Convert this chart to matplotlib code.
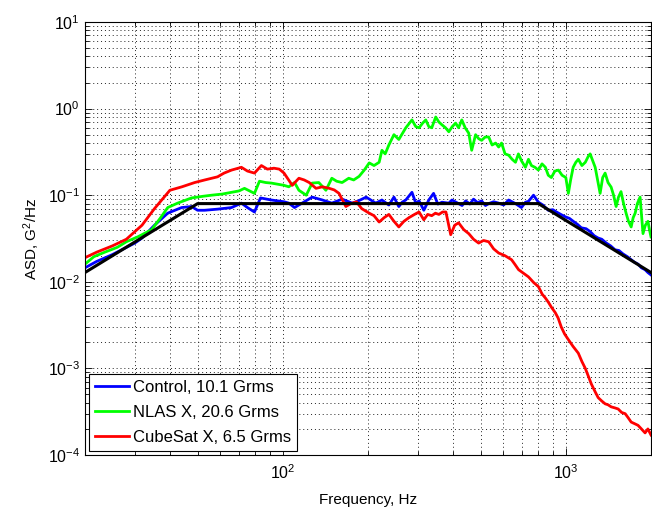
import matplotlib
matplotlib.use("Agg")
import matplotlib.pyplot as plt
from matplotlib.ticker import LogLocator, NullFormatter

plt.rcParams['font.family'] = ['Liberation Sans', 'DejaVu Sans']
plt.rcParams['mathtext.default'] = 'regular'

# ---- data ----
spec_f = [20, 50, 800, 2000]
spec_v = [0.0128, 0.08, 0.08, 0.0128]

control_f = [20, 22, 24.9, 27, 30.0, 31.8, 35.2, 39.2, 43.9, 47.6, 50.0, 52.9, 58.8, 65.9, 71.4, 75.0,
             79.4, 83.4, 91.1, 101, 105, 110, 117, 127, 138, 149, 162, 176, 185, 197, 213, 224,
             237, 247, 257, 264, 272, 286, 295, 303, 315, 328, 341, 353, 365, 386, 396, 418, 430,
             443, 458, 472, 488, 504, 520, 534, 556, 579, 603, 628, 664, 697, 720, 738, 769, 800,
             830, 867, 900, 927, 960, 1000, 1030, 1062, 1100, 1135, 1180, 1219, 1260, 1301, 1340,
             1390, 1440, 1493, 1540, 1592, 1650, 1702, 1750, 1800, 1850, 1906, 1950, 2000]
control_v = [0.0145, 0.0172, 0.0205, 0.0235, 0.028, 0.032, 0.045, 0.062, 0.072, 0.074, 0.067, 0.067,
             0.069, 0.072, 0.081, 0.072, 0.064, 0.093, 0.088, 0.084, 0.081, 0.072, 0.081, 0.095,
             0.088, 0.081, 0.09, 0.081, 0.086, 0.095, 0.081, 0.088, 0.077, 0.095, 0.074, 0.083,
             0.088, 0.108, 0.081, 0.086, 0.067, 0.088, 0.105, 0.079, 0.083, 0.081, 0.088, 0.08,
             0.076, 0.086, 0.079, 0.09, 0.082, 0.086, 0.076, 0.08, 0.084, 0.081, 0.077, 0.088, 0.08,
             0.072, 0.083, 0.085, 0.1, 0.083, 0.077, 0.067, 0.068, 0.064, 0.06, 0.056, 0.054, 0.05,
             0.046, 0.042, 0.041, 0.038, 0.034, 0.032, 0.031, 0.028, 0.026, 0.0234, 0.023, 0.021,
             0.0195, 0.018, 0.0168, 0.016, 0.0145, 0.0138, 0.0128, 0.012]

nlas_f = [20, 21.5, 23.5, 26, 28, 30.7, 34.4, 37, 39.2, 42.5, 47.6, 52, 56.0, 61, 65.9, 70, 73.2,
          79.4, 82.7, 87, 91.1, 96, 101, 105, 110, 114, 121, 127, 134, 142, 149, 155, 162, 171,
          178, 186, 194, 202, 210, 219, 224, 230, 237, 247, 257, 265, 272, 286, 295, 303, 312,
          320, 328, 336, 347, 356, 365, 376, 386, 397, 408, 418, 429, 441, 454, 465, 480, 492,
          504, 519, 534, 549, 565, 579, 593, 610, 628, 646, 664, 680, 697, 720, 738, 756, 778,
          800, 824, 847, 867, 889, 915, 942, 970, 1000, 1021, 1040, 1062, 1085, 1107, 1140, 1172,
          1200, 1219, 1245, 1270, 1295, 1322, 1350, 1377, 1410, 1446, 1475, 1506, 1535, 1567,
          1600, 1633, 1665, 1702, 1730, 1758, 1790, 1830, 1850, 1874, 1910, 1951, 1975, 2000]
nlas_v = [0.016, 0.0195, 0.022, 0.025, 0.029, 0.033, 0.04, 0.055, 0.072, 0.081, 0.093, 0.097, 0.1,
          0.103, 0.108, 0.112, 0.12, 0.105, 0.145, 0.14, 0.138, 0.134, 0.13, 0.125, 0.14, 0.114,
          0.1, 0.138, 0.14, 0.114, 0.157, 0.145, 0.14, 0.157, 0.15, 0.165, 0.195, 0.236, 0.22,
          0.24, 0.33, 0.3, 0.38, 0.5, 0.44, 0.52, 0.6, 0.74, 0.62, 0.6, 0.68, 0.74, 0.62, 0.6,
          0.8, 0.7, 0.65, 0.6, 0.54, 0.62, 0.68, 0.6, 0.74, 0.6, 0.52, 0.33, 0.5, 0.45, 0.43,
          0.47, 0.47, 0.38, 0.4, 0.36, 0.4, 0.3, 0.29, 0.26, 0.24, 0.3, 0.25, 0.21, 0.26, 0.22,
          0.21, 0.195, 0.23, 0.21, 0.17, 0.16, 0.19, 0.195, 0.17, 0.16, 0.105, 0.15, 0.21,
          0.24, 0.26, 0.22, 0.24, 0.28, 0.3, 0.25, 0.21, 0.15, 0.105, 0.16, 0.18, 0.14, 0.124,
          0.1, 0.074, 0.095, 0.11, 0.08, 0.062, 0.05, 0.043, 0.055, 0.062, 0.08, 0.095, 0.06,
          0.036, 0.045, 0.05, 0.04, 0.033]

cube_f = [20, 22, 25, 28, 31.8, 35.2, 39.9, 44, 48.8, 53, 58.8, 62, 65.9, 71.4, 75, 79.4, 84.0,
          88.2, 93, 97.2, 101, 108, 114, 119, 124, 131, 138, 146, 152, 158, 167, 174, 182, 190,
          202, 210, 219, 228, 237, 247, 257, 268, 279, 292, 303, 315, 325, 336, 346, 356, 367,
          377, 392, 405, 418, 436, 454, 472, 492, 512, 534, 556, 579, 610, 643, 660, 681, 710,
          738, 770, 800, 825, 847, 868, 889, 918, 940, 964, 990, 1021, 1060, 1107, 1140, 1172,
          1200, 1231, 1265, 1301, 1340, 1377, 1410, 1446, 1490, 1531, 1575, 1621, 1660, 1702,
          1750, 1800, 1850, 1906, 1950, 2000]
cube_v = [0.019, 0.022, 0.026, 0.031, 0.045, 0.07, 0.114, 0.125, 0.14, 0.15, 0.163, 0.18, 0.195,
          0.21, 0.19, 0.18, 0.22, 0.2, 0.205, 0.2, 0.18, 0.13, 0.157, 0.15, 0.14, 0.12, 0.125,
          0.12, 0.115, 0.105, 0.074, 0.08, 0.084, 0.07, 0.062, 0.058, 0.049, 0.055, 0.06, 0.05,
          0.043, 0.05, 0.055, 0.06, 0.064, 0.052, 0.06, 0.058, 0.062, 0.06, 0.064, 0.064, 0.035,
          0.045, 0.048, 0.04, 0.036, 0.031, 0.028, 0.03, 0.029, 0.024, 0.0215, 0.02, 0.018, 0.016,
          0.0138, 0.0125, 0.0114, 0.0098, 0.0088, 0.0072, 0.0065, 0.0058, 0.0051, 0.0044, 0.0038,
          0.003, 0.0025, 0.00215, 0.0018, 0.0015, 0.0012, 0.001, 0.00082, 0.00066, 0.00055,
          0.00046, 0.00042, 0.00039, 0.00038, 0.00036, 0.00035, 0.00034, 0.00031, 0.0003, 0.00027,
          0.00024, 0.00023, 0.00022, 0.0002, 0.00018, 0.0002, 0.00017]

labels = ["Control, 10.1 Grms", "NLAS X, 20.6 Grms", "CubeSat X, 6.5 Grms"]

# ---- figure ----
fig = plt.figure(figsize=(6.52, 5.07), dpi=100)
ax = fig.add_axes([85/652, 1-455/507, 566/652, 433/507])

ax.plot(control_f, control_v, color='#0000ff', lw=2.0, label=labels[0])
ax.plot(nlas_f, nlas_v, color='#00ff00', lw=2.0, label=labels[1])
ax.plot(cube_f, cube_v, color='#ff0000', lw=2.0, label=labels[2])
ax.plot(spec_f, spec_v, color='black', lw=2.2)

ax.set_xscale('log')
ax.set_yscale('log')
ax.set_xlim(20, 2000)
ax.set_ylim(1e-4, 10)

ax.xaxis.set_major_locator(LogLocator(base=10, numticks=10))
ax.xaxis.set_minor_locator(LogLocator(base=10, subs=range(2, 10), numticks=20))
ax.yaxis.set_major_locator(LogLocator(base=10, numticks=10))
ax.yaxis.set_minor_locator(LogLocator(base=10, subs=range(2, 10), numticks=20))
ax.xaxis.set_minor_formatter(NullFormatter())
ax.yaxis.set_minor_formatter(NullFormatter())

ax.grid(True, which='major', linestyle=(0, (1, 3)), color='#222222', lw=0.7)
ax.grid(True, which='minor', linestyle=(0, (1, 3)), color='#222222', lw=0.7)

ax.tick_params(which='both', direction='in', top=True, right=True, labelsize=11.5, colors='black')
ax.tick_params(which='major', length=5, width=0.6)
ax.tick_params(which='minor', length=3, width=0.6)
ax.tick_params(axis='x', pad=6)
for s in ax.spines.values():
    s.set_linewidth(0.8)

ax.set_xlabel('Frequency, Hz', fontsize=11, labelpad=8)
ax.set_ylabel('ASD, G$^2$/Hz', fontsize=11, labelpad=4)

leg = ax.legend(loc='lower left', fontsize=12, fancybox=False, framealpha=1,
                edgecolor='black', borderpad=0.35, handlelength=2.05, handletextpad=0.25,
                labelspacing=0.6, borderaxespad=0.25)
leg.get_frame().set_linewidth(0.8)

fig.savefig('out.png', dpi=100)
